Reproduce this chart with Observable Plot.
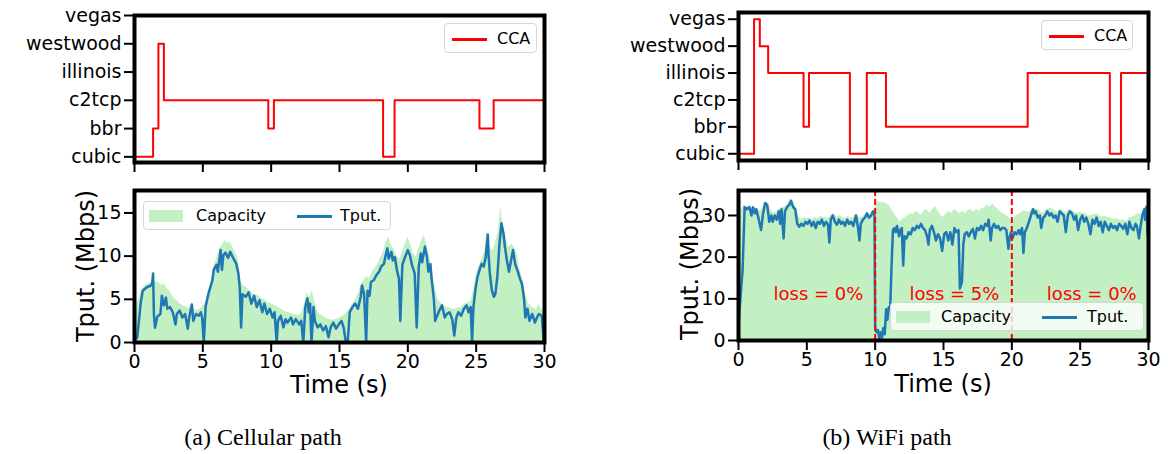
<!DOCTYPE html>
<html>
<head>
<meta charset="utf-8">
<script src="https://cdn.jsdelivr.net/npm/d3@7"></script>
<script src="https://cdn.jsdelivr.net/npm/@observablehq/plot@0.6"></script>
<style>
  body { margin: 0; background: #fff; }
  #root { position: relative; width: 1168px; height: 454px; overflow: hidden; background: #fff; font-family: "DejaVu Sans", sans-serif; }
  .pl { position: absolute; }
  .leg { position: absolute; box-sizing: border-box; background: rgba(255,255,255,0.8); border: 1px solid #d6d6d6; border-radius: 4px; }
  .leg span { position: absolute; }
  .leg .tx { font-size: 16px; line-height: 16px; color: #000; }
  .cap { position: absolute; font-family: "Liberation Serif", serif; font-size: 24px; color: #000; transform: translate(-50%, -50%); white-space: nowrap; }
  .ttl { position: absolute; font-family: "DejaVu Sans", sans-serif; font-size: 24px; line-height: 24px; color: #000; white-space: nowrap; }
</style>
</head>
<body>
<div id="root"></div>
<script>
// ---------------- data ----------------
const ccaNames = ["cubic", "bbr", "c2tcp", "illinois", "westwood", "vegas"];
const xTicks = [0, 5, 10, 15, 20, 25, 30];

// (a) Cellular path: CCA switch times and chosen CCA
const ccaTimesA = [0, 1.36, 1.75, 2.15, 9.79, 10.2, 18.19, 19.03, 25.24, 26.28, 30];
const ccaA = ["cubic", "bbr", "westwood", "c2tcp", "bbr", "c2tcp", "cubic", "c2tcp", "bbr", "c2tcp", "c2tcp"];

// (b) WiFi path
const ccaTimesB = [0, 1.14, 1.56, 2.17, 4.76, 5.16, 8.15, 9.39, 10.79, 21.16, 27.17, 27.99, 30];
const ccaB = ["cubic", "vegas", "westwood", "illinois", "bbr", "illinois", "cubic", "illinois", "bbr", "illinois", "cubic", "illinois", "illinois"];

// capacity sampled every 0.2 s (Mbps)
const capStep = 0.2;
const capacityA = [2.5,4.5,5.5,6.2,6.6,6.8,6.9,7.2,7.0,6.9,6.6,6.8,6.2,5.9,5.3,5.0,4.7,4.4,4.2,4.1,
  3.9,4.6,3.8,3.7,3.9,4.2,4.6,5.6,7.0,8.8,9.6,10.8,11.2,11.8,11.5,11.6,11.0,10.4,9.6,7.0,
  6.5,6.4,6.0,5.8,5.5,5.5,5.2,5.0,4.9,4.6,4.5,4.3,4.2,4.0,3.8,3.6,3.5,3.4,3.3,3.2,
  3.1,3.3,4.2,5.8,5.2,6.0,4.6,3.6,3.2,3.0,2.8,2.7,2.6,2.6,2.7,2.8,3.0,3.2,3.6,4.0,
  4.6,5.0,5.8,6.8,7.2,7.6,7.4,8.2,8.6,9.0,9.8,10.4,11.6,12.2,11.2,10.8,10.0,9.6,10.4,11.4,
  12.2,11.4,10.4,9.8,10.8,11.8,12.4,11.2,10.0,8.0,6.4,5.0,4.6,4.3,4.1,4.0,3.9,3.8,4.0,4.0,
  4.2,4.5,4.6,4.7,6.0,7.8,8.8,9.6,10.4,12.8,11.2,10.6,11.4,12.8,15.6,13.4,12.0,11.0,11.4,11.0,
  10.2,8.4,7.4,5.8,4.6,4.2,4.0,3.8,4.4,3.8,3.6];
const capacityB = [31,31.5,32.5,32,32.3,31.5,32,31.5,31,32,33.2,32.8,31,30.5,31,31.5,32,32,32.8,34,
  33,32,30,29,29.5,29.2,29.5,29,29.5,29.2,29.8,29.5,29.6,29.2,30.2,30.5,29.5,30,29.6,29.2,
  29.8,29.4,29.4,30.5,29.5,29.5,30,30.5,30.2,31,31.5,33.5,33,33.2,32.8,32.5,31.5,30.5,29.5,28.5,
  29,29.5,30,30.5,30.2,31,30.5,30,31.2,31.5,30.5,31.5,32.2,31,30,29.5,30.5,31,30.5,31.5,
  31,30.5,31,30.5,31.2,31.5,30.8,31.5,31,31.6,31.8,32.5,32,32.8,32,31.5,30.8,30.4,30,29.5,
  28.5,29.5,30,30.5,31,31,30.8,31.2,31.8,31.5,31.5,30.5,31,31.5,31.8,31.5,31,30.8,31.5,31,
  30.8,31.5,31.2,30.8,30.5,30.8,30.5,30.5,29.8,30,30.2,30.5,30,29.5,29.8,29.5,29.5,29,29.2,29,
  28.8,29,28.5,29.5,29.5,29.8,30.5,30.2,31,32.5,31.5];

// measured throughput [time s, Mbps]
const tputA = [[0,0.2],[0.2,0.6],[0.45,4.5],[0.6,6],[0.9,6.4],[1.2,6.6],[1.3,6.9],[1.36,8],[1.42,3.3],[1.5,1.7],[1.67,3],[1.9,3.3],[2.0,5.4],[2.15,4.3],[2.3,5.2],[2.4,3.9],[2.6,4.1],[2.8,3.5],[3.0,2.1],[3.1,3.3],[3.3,3.7],[3.5,2.9],[3.7,3.3],[3.9,1.6],[4.0,2.9],[4.2,4.4],[4.3,2.5],[4.5,3.3],[4.7,3.1],[4.85,3.5],[4.95,2.9],[5.07,0],[5.2,4.1],[5.4,5.6],[5.7,7.2],[5.8,8.4],[6.0,9],[6.1,8.2],[6.3,10.7],[6.4,8.4],[6.5,10.1],[6.65,10.4],[6.85,9.8],[7.0,10.5],[7.25,9.7],[7.45,9.1],[7.6,8],[7.7,6.4],[7.8,1.75],[7.9,5.6],[8.15,5.3],[8.35,5.8],[8.55,4.5],[8.75,5.4],[8.95,4.1],[9.15,4.9],[9.35,3.5],[9.5,4.5],[9.7,3.3],[9.9,3.9],[10.1,2.9],[10.25,3.5],[10.4,0],[10.5,2.5],[10.7,3.1],[10.9,1.75],[11.05,2.7],[11.2,2.3],[11.45,2.9],[11.6,2.1],[11.8,2.7],[12.05,2.1],[12.2,2.5],[12.35,0],[12.5,4.1],[12.65,5.1],[12.75,3.5],[12.85,4.5],[12.95,0],[13.1,4.1],[13.2,2.5],[13.4,1.75],[13.6,2.1],[13.8,1.4],[14.0,1.9],[14.2,0.6],[14.35,1.75],[14.55,2.3],[14.75,1.6],[14.95,2.1],[15.15,2.5],[15.3,1.75],[15.45,0.2],[15.6,0],[15.75,3.5],[15.95,4.1],[16.15,4.5],[16.35,3.9],[16.55,5.3],[16.65,6.6],[16.8,5.6],[16.95,0],[17.05,6],[17.2,5.4],[17.3,7],[17.5,7.2],[17.7,7.8],[17.9,8.2],[18.05,8.8],[18.25,9.1],[18.35,9.9],[18.5,10.9],[18.6,9.7],[18.8,10.5],[18.9,9.5],[19.05,9.9],[19.2,8.4],[19.35,7.4],[19.45,2.5],[19.6,9],[19.8,9.9],[20.0,10.7],[20.15,10.1],[20.3,9],[20.5,8],[20.65,1.75],[20.8,8.8],[20.95,10.3],[21.05,9.3],[21.25,11.1],[21.4,9.9],[21.5,8.2],[21.65,9.1],[21.75,7.2],[21.9,5.1],[22.0,2.5],[22.15,3.1],[22.3,3.7],[22.5,4.3],[22.7,2.9],[22.85,3.3],[23.05,3.5],[23.25,2.7],[23.4,0.8],[23.55,2.9],[23.7,3.5],[23.9,3.1],[24.1,3.9],[24.3,4.3],[24.45,3.5],[24.6,4.1],[24.7,0],[24.8,4.1],[24.95,6.2],[25.1,7.6],[25.25,8.4],[25.4,9.1],[25.55,8.8],[25.7,9.9],[25.85,12.5],[25.9,10.3],[26.0,8],[26.15,6],[26.3,5.3],[26.4,5.6],[26.55,7.6],[26.7,11.3],[26.85,13.8],[27.0,12.6],[27.1,11.1],[27.25,9.5],[27.4,8.2],[27.55,9.5],[27.7,10.7],[27.85,9.1],[28.05,8.2],[28.2,7.4],[28.35,6.8],[28.5,5.1],[28.6,2.9],[28.75,3.9],[28.9,2.5],[29.1,3.3],[29.3,2.3],[29.45,2.9],[29.6,3.3],[29.8,3.1],[29.95,0]];

const tputB = [[0,4],[0.3,17],[0.45,32],[0.6,31.5],[0.8,32],[0.95,30],[1.05,32],[1.2,30.5],[1.3,31.5],[1.45,29.5],[1.55,28],[1.65,26.5],[1.8,30.5],[1.95,33],[2.1,32.5],[2.25,28.5],[2.4,30],[2.5,28.5],[2.65,30],[2.8,29],[2.95,31],[3.05,28],[3.15,31.5],[3.3,24.5],[3.4,31],[3.55,32],[3.7,32.5],[3.85,33.5],[4.0,32],[4.15,31.5],[4.3,28],[4.45,27.3],[4.6,28],[4.75,27.5],[4.9,28.5],[5.05,28],[5.2,28.8],[5.35,27.5],[5.5,28.5],[5.65,27],[5.8,28.5],[5.95,28],[6.1,29],[6.25,27.5],[6.4,28.5],[6.55,27.8],[6.65,23.5],[6.75,29],[6.9,30],[7.05,28.5],[7.2,27.8],[7.35,29],[7.5,28],[7.65,28.5],[7.8,27.5],[7.95,29],[8.1,28],[8.25,28.5],[8.4,27.5],[8.6,30],[8.75,27],[8.85,24],[8.95,28],[9.1,29],[9.25,29.5],[9.4,30.5],[9.55,29.5],[9.7,30],[9.85,31],[9.95,30],[10.0,3],[10.1,2],[10.2,2.5],[10.3,0.5],[10.4,2],[10.5,0.7],[10.6,3],[10.7,1.5],[10.8,7.5],[10.9,5],[11.0,8],[11.1,8],[11.2,18],[11.3,26.5],[11.4,27],[11.5,26],[11.6,27.5],[11.75,25],[11.85,26.5],[11.95,27],[12.05,18],[12.15,25],[12.3,24.5],[12.45,26],[12.6,25.5],[12.75,27],[12.9,26.5],[13.05,27.5],[13.2,27],[13.35,28],[13.5,27],[13.65,26.5],[13.8,25],[13.9,23],[14.0,26.5],[14.15,27.5],[14.3,26],[14.45,24],[14.6,25.5],[14.75,24.5],[14.9,21.5],[15.05,25.5],[15.2,26],[15.35,24],[15.5,26],[15.65,23],[15.8,27],[15.95,26],[16.1,26.5],[16.2,12.5],[16.35,14],[16.45,23],[16.55,25.5],[16.7,26],[16.85,25],[17.0,26],[17.15,26.8],[17.3,24.5],[17.45,27],[17.6,26.5],[17.75,27.5],[17.9,26.5],[18.05,28],[18.2,27.5],[18.3,29],[18.45,24],[18.55,27],[18.7,28],[18.85,27],[19.0,27.5],[19.15,26.5],[19.3,27],[19.45,27],[19.6,26.5],[19.75,22],[19.85,25],[19.95,26],[20.05,24.5],[20.2,26],[20.35,25.5],[20.5,26.5],[20.6,25.5],[20.75,27],[20.85,21],[20.95,26],[21.1,27],[21.25,28.5],[21.4,30],[21.55,31.5],[21.65,30.5],[21.75,31],[21.9,29.5],[22.05,30],[22.15,27],[22.3,29.5],[22.45,30],[22.6,31],[22.75,30],[22.9,30.5],[23.05,29.5],[23.2,30],[23.35,28.5],[23.5,31],[23.65,30.5],[23.8,30],[23.95,26],[24.1,30],[24.25,31],[24.4,30.5],[24.55,29],[24.7,30],[24.85,26.5],[25.0,29],[25.15,30],[25.3,28.5],[25.45,29.5],[25.6,28],[25.75,25.5],[25.9,29],[26.05,28],[26.2,29.5],[26.35,27.5],[26.5,28.5],[26.65,26],[26.8,28.5],[26.95,27.5],[27.1,26.5],[27.25,28],[27.4,27],[27.55,27.5],[27.7,26.5],[27.85,28],[28.0,27.5],[28.15,26.8],[28.3,28],[28.45,25.5],[28.6,28.5],[28.75,27],[28.9,26.5],[29.05,28],[29.15,27.5],[29.3,24.5],[29.45,28],[29.55,30],[29.7,31.5],[29.75,29],[29.85,32],[29.95,25]];

// loss annotations (panel b)
const lossBreaks = [10, 20];
const lossLabels = ["loss = 0%", "loss = 5%", "loss = 0%"];
const lossAt = [5.85, 15.8, 25.85];
const lossLevel = 11;

// ---------------- drawing ----------------
const FONT = "DejaVu Sans";
const TICK_FONT = 19;
const root = document.getElementById("root");

function place(el, left, top) {
  el.classList.add("pl");
  el.style.left = left + "px";
  el.style.top = top + "px";
  root.appendChild(el);
}

function ccaPlot(times, names, yDomain, g) {
  const data = times.map((t, i) => ({t, y: ccaNames.indexOf(names[i])}));
  return Plot.plot({
    width: g.width, height: g.height,
    marginLeft: g.ml, marginRight: g.mr, marginTop: g.mt, marginBottom: g.mb,
    x: {domain: [0, 30]},
    y: {domain: yDomain},
    style: {fontFamily: FONT, fontSize: TICK_FONT + "px", background: "transparent", overflow: "visible", color: "black"},
    marks: [
      Plot.line(data, {x: "t", y: "y", curve: "step-after", stroke: "#ff0000", strokeWidth: 2}),
      Plot.axisY({ticks: [0, 1, 2, 3, 4, 5], tickFormat: i => ccaNames[i], tickSize: 10, tickPadding: 3, strokeWidth: 2, fontSize: TICK_FONT, label: null}),
      Plot.axisX({ticks: xTicks, tickFormat: () => "", tickSize: 10, strokeWidth: 2, label: null}),
      Plot.frame({stroke: "black", strokeWidth: 4})
    ]
  });
}

function tputPlot(cap, tput, yDomain, yTicks, g, extra) {
  const capData = cap.map((v, i) => ({t: +(i * capStep).toFixed(2), v}));
  const tpData = tput.map(([t, v]) => ({t, v}));
  return Plot.plot({
    width: g.width, height: g.height,
    marginLeft: g.ml, marginRight: g.mr, marginTop: g.mt, marginBottom: g.mb,
    x: {domain: [0, 30]},
    y: {domain: yDomain},
    style: {fontFamily: FONT, fontSize: TICK_FONT + "px", background: "transparent", overflow: "visible", color: "black"},
    marks: [
      Plot.areaY(capData, {x: "t", y: "v", fill: "#c2f0c2"}),
      Plot.lineY(tpData, {x: "t", y: "v", stroke: "#1f77b4", strokeWidth: 2.5, strokeLinejoin: "round"}),
      ...(extra.after || []),
      Plot.axisY({ticks: yTicks, tickSize: 10, tickPadding: 3, strokeWidth: 2, fontSize: TICK_FONT, label: null}),
      Plot.axisX({ticks: xTicks, tickSize: 10, tickPadding: 2, strokeWidth: 2, fontSize: TICK_FONT, label: null}),
      Plot.frame({stroke: "black", strokeWidth: 4})
    ]
  });
}

// (a) top
place(ccaPlot(ccaTimesA, ccaA, [-0.2, 5], {width: 560, height: 180, ml: 134, mr: 16, mt: 15, mb: 18}), 0, 0);
// (b) top
place(ccaPlot(ccaTimesB, ccaB, [-0.25, 5.25], {width: 568, height: 180, ml: 138, mr: 20, mt: 12, mb: 20}), 600, 0);
// (a) bottom
place(tputPlot(capacityA, tputA, [0, 17.6], [0, 5, 10, 15],
  {width: 560, height: 220, ml: 134, mr: 16, mt: 10, mb: 58}, {}), 0, 180);
// (b) bottom
place(tputPlot(capacityB, tputB, [0, 36], [0, 10, 20, 30],
  {width: 568, height: 220, ml: 138, mr: 20, mt: 10, mb: 60},
  {
    after: [
      Plot.ruleX(lossBreaks, {stroke: "#ff0000", strokeWidth: 2, strokeDasharray: "6,3"}),
      Plot.text(lossLabels, {x: (d, i) => lossAt[i], y: () => lossLevel, text: d => d, fill: "#ff0000", fontSize: 18})
    ]
  }), 600, 180);

// axis titles
function title(text, x, y, rotate) {
  const t = document.createElement("div");
  t.className = "ttl";
  t.textContent = text;
  t.style.left = x + "px";
  t.style.top = y + "px";
  t.style.transform = "translate(-50%, -50%)" + (rotate ? " rotate(-90deg)" : "");
  root.appendChild(t);
}
title("Tput. (Mbps)", 86, 266, true);
title("Time (s)", 339, 385, false);
title("Tput. (Mbps)", 690, 264, true);
title("Time (s)", 943, 384, false);

// legends (HTML overlays, matplotlib-style boxes)
function legend(left, top, w, h, items) {
  const d = document.createElement("div");
  d.className = "leg";
  Object.assign(d.style, {left: left + "px", top: top + "px", width: w + "px", height: h + "px"});
  for (const it of items) {
    const s = document.createElement("span");
    if (it.kind === "line") {
      Object.assign(s.style, {left: it.x + "px", top: (it.y - 1) + "px", width: it.w + "px", height: "2.5px", background: it.color});
    } else if (it.kind === "patch") {
      Object.assign(s.style, {left: it.x + "px", top: (it.y - 6) + "px", width: it.w + "px", height: "12px", background: it.color});
    } else {
      s.className = "tx";
      s.textContent = it.text;
      Object.assign(s.style, {left: it.x + "px", top: (it.y - 8) + "px"});
    }
    d.appendChild(s);
  }
  root.appendChild(d);
}
legend(444, 23, 93, 30, [
  {kind: "line", x: 7, y: 15, w: 35, color: "#ff0000"},
  {kind: "text", x: 52, y: 15, text: "CCA"}
]);
legend(1041, 20, 92, 30, [
  {kind: "line", x: 7, y: 15, w: 35, color: "#ff0000"},
  {kind: "text", x: 52, y: 15, text: "CCA"}
]);
legend(143, 201, 248, 29, [
  {kind: "patch", x: 5, y: 14, w: 34, color: "#c2f0c2"},
  {kind: "text", x: 52, y: 14, text: "Capacity"},
  {kind: "line", x: 153, y: 14, w: 35, color: "#1f77b4"},
  {kind: "text", x: 196, y: 14, text: "Tput."}
]);
legend(890, 302, 254, 29, [
  {kind: "patch", x: 5, y: 14, w: 34, color: "#c2f0c2"},
  {kind: "text", x: 50, y: 14, text: "Capacity"},
  {kind: "line", x: 151, y: 14, w: 35, color: "#1f77b4"},
  {kind: "text", x: 196, y: 14, text: "Tput."}
]);

// captions
function caption(text, x, y) {
  const c = document.createElement("div");
  c.className = "cap";
  c.textContent = text;
  c.style.left = x + "px";
  c.style.top = y + "px";
  root.appendChild(c);
}
caption("(a) Cellular path", 263, 437);
caption("(b) WiFi path", 887, 437);
</script>
</body>
</html>
